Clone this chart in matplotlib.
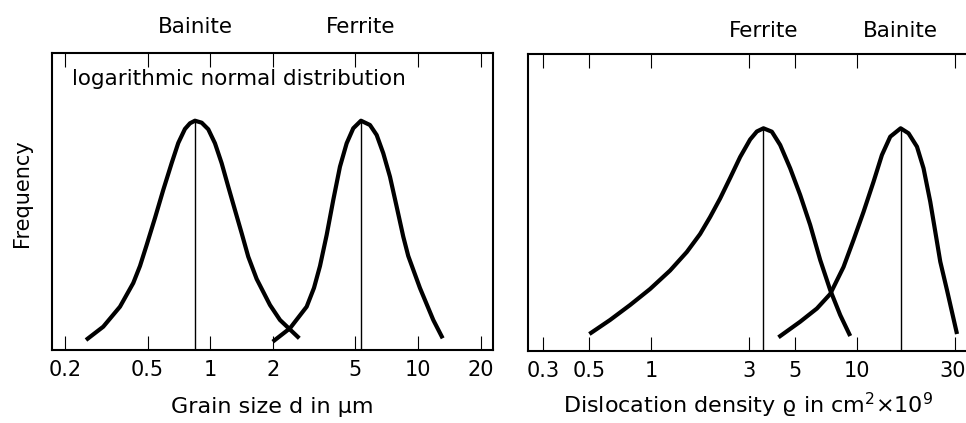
import numpy as np
import matplotlib.pyplot as plt
from matplotlib.ticker import FixedLocator, FixedFormatter, NullLocator
from matplotlib.transforms import ScaledTranslation

plt.rcParams['font.family'] = ['DejaVu Sans']

# grain size (left panel)
grain_ticks = [0.2, 0.5, 1, 2, 5, 10, 20]
grain_labels = ['0.2', '0.5', '1', '2', '5', '10', '20']

bainite_d = [0.2526, 0.3058, 0.3681, 0.4265, 0.4595, 0.4947, 0.5425, 0.5945, 0.6529,
             0.7022, 0.756, 0.7995, 0.845, 0.9102, 0.9792, 1.0546, 1.136, 1.222,
             1.316, 1.418, 1.525, 1.674, 1.94, 2.168, 2.685]
bainite_fd = [0.0337, 0.0785, 0.1459, 0.2258, 0.2831, 0.3539, 0.4449, 0.5393, 0.6303,
              0.6977, 0.7449, 0.7641, 0.7728, 0.7661, 0.7439, 0.6967, 0.6293, 0.5504,
              0.4719, 0.3933, 0.3145, 0.2393, 0.1517, 0.1011, 0.0394]

ferrite_d = [2.0, 2.421, 2.913, 3.159, 3.377, 3.636, 3.912, 4.213, 4.538, 4.882,
             5.318, 5.875, 6.328, 6.808, 7.333, 7.898, 8.498, 8.98, 10.22, 11.85, 13.15]
ferrite_fd = [0.028, 0.0731, 0.1459, 0.209, 0.2831, 0.3876, 0.5056, 0.6178, 0.6967,
              0.7472, 0.7728, 0.7583, 0.7246, 0.663, 0.5841, 0.483, 0.3819, 0.3168,
              0.209, 0.1011, 0.0394]

bainite_d_peak = 0.845
ferrite_d_peak = 5.318

# dislocation density (right panel)
rho_ticks = [0.3, 0.5, 1, 3, 5, 10, 30]
rho_labels = ['0.3', '0.5', '1', '3', '5', '10', '30']

ferrite_rho = [0.5015, 0.632, 0.7907, 0.9888, 1.237, 1.491, 1.73, 1.935, 2.164, 2.42,
               2.707, 3.027, 3.263, 3.513, 3.859, 4.235, 4.736, 5.297, 5.924, 6.626,
               7.409, 8.286, 9.268]
ferrite_frho = [0.0573, 0.1046, 0.1551, 0.2091, 0.2715, 0.3339, 0.3946, 0.4519, 0.5143,
                0.5835, 0.6543, 0.7133, 0.7403, 0.7511, 0.7396, 0.6948, 0.6162, 0.5261,
                0.425, 0.3069, 0.2057, 0.1214, 0.0506]

bainite_rho = [4.155, 5.297, 6.385, 7.409, 8.599, 9.616, 10.75, 12.03, 13.21, 14.5,
               16.29, 17.79, 19.55, 21.04, 22.68, 23.99, 25.37, 27.34, 30.59]
bainite_frho = [0.0462, 0.0988, 0.1433, 0.1922, 0.2833, 0.3744, 0.4688, 0.571, 0.661,
                0.7228, 0.7511, 0.7342, 0.689, 0.6162, 0.5035, 0.4024, 0.3012, 0.2057,
                0.0573]

ferrite_rho_peak = 3.513
bainite_rho_peak = 16.29

fig = plt.figure(figsize=(9.66, 4.23), dpi=100)
ax1 = fig.add_axes([0.0535, 0.1726, 0.4565, 0.7014])
ax2 = fig.add_axes([0.5469, 0.1702, 0.4552, 0.7010])


def style_axis(ax, ticks, labels, xlim):
    ax.set_xscale('log')
    ax.set_xlim(*xlim)
    ax.set_ylim(0, 1)
    ax.xaxis.set_major_locator(FixedLocator(ticks))
    ax.xaxis.set_major_formatter(FixedFormatter(labels))
    ax.xaxis.set_minor_locator(NullLocator())
    ax.yaxis.set_major_locator(NullLocator())
    ax.tick_params(axis='x', which='major', direction='in', top=True, bottom=True,
                   length=10, width=0.8, pad=7, labelsize=15)
    for s in ax.spines.values():
        s.set_linewidth(1.5)


style_axis(ax1, grain_ticks, grain_labels, (0.1727, 22.88))
style_axis(ax2, rho_ticks, rho_labels, (0.2534, 34.6))

# last label sits right at the picture edge, nudge it in a little
last = ax2.get_xticklabels()[-1]
last.set_transform(last.get_transform() + ScaledTranslation(-3 / 100, 0, fig.dpi_scale_trans))

curve = dict(color='black', lw=3, solid_capstyle='butt', solid_joinstyle='round')

# left panel
ax1.plot(bainite_d, bainite_fd, **curve)
ax1.plot(ferrite_d, ferrite_fd, **curve)
ax1.vlines([bainite_d_peak, ferrite_d_peak], 0, [max(bainite_fd), max(ferrite_fd)],
           color='black', lw=1)
ax1.text(0.046, 0.893, 'logarithmic normal distribution', transform=ax1.transAxes,
         fontsize=15.5, ha='left', va='baseline')
ax1.text(bainite_d_peak, 1.067, 'Bainite', transform=ax1.get_xaxis_transform(),
         fontsize=15.5, ha='center', va='baseline')
ax1.text(ferrite_d_peak, 1.067, 'Ferrite', transform=ax1.get_xaxis_transform(),
         fontsize=15.5, ha='center', va='baseline')
ax1.set_xlabel('Grain size d in µm', fontsize=16)
ax1.xaxis.label.set_va('baseline')
ax1.xaxis.set_label_coords(0.5, -0.212)

# right panel
ax2.plot(ferrite_rho, ferrite_frho, **curve)
ax2.plot(bainite_rho, bainite_frho, **curve)
ax2.vlines([ferrite_rho_peak, bainite_rho_peak], 0, [max(ferrite_frho), max(bainite_frho)],
           color='black', lw=1)
ax2.text(ferrite_rho_peak, 1.06, 'Ferrite', transform=ax2.get_xaxis_transform(),
         fontsize=15.5, ha='center', va='baseline')
ax2.text(bainite_rho_peak, 1.06, 'Bainite', transform=ax2.get_xaxis_transform(),
         fontsize=15.5, ha='center', va='baseline')
ax2.set_xlabel('Dislocation density ϱ in cm$^{2}$×10$^{9}$', fontsize=16)
ax2.xaxis.label.set_va('baseline')
ax2.xaxis.set_label_coords(0.5, -0.209)

fig.text(22.5 / 966, 1 - 193.5 / 423, 'Frequency', rotation=90, fontsize=15,
         ha='center', va='center')

fig.savefig('out.png', dpi=100)
